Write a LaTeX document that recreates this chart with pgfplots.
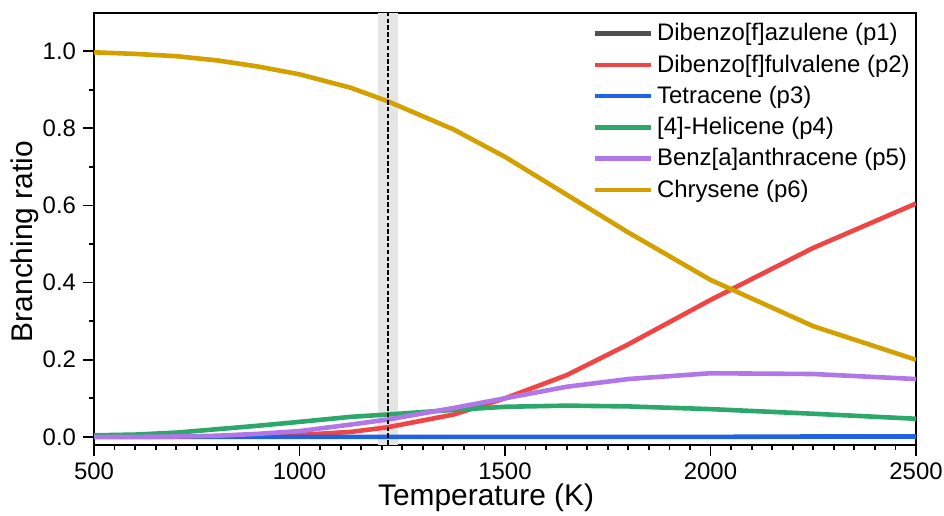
\documentclass[border=0pt]{standalone}
\usepackage{pgfplots}
\pgfplotsset{compat=1.18}
\usepackage{fontspec}
\setmainfont{Liberation Sans}
\definecolor{cP1}{HTML}{505050}
\definecolor{cP2}{HTML}{F04545}
\definecolor{cP3}{HTML}{1F63DE}
\definecolor{cP4}{HTML}{2BA86A}
\definecolor{cP5}{HTML}{B277E6}
\definecolor{cP6}{HTML}{D4A000}
\begin{document}
\begin{tikzpicture}
\begin{axis}[
  scale only axis, width=411bp, height=216bp,
  xmin=500, xmax=2500, ymin=-0.02, ymax=1.1,
  xtick={500,1000,1500,2000,2500}, minor x tick num=9,
  ytick={0,0.2,0.4,0.6,0.8,1.0}, minor y tick num=1,
  /pgf/number format/assume math mode=true,
  xticklabel style={/pgf/number format/.cd, set thousands separator={}},
  yticklabel style={/pgf/number format/.cd, fixed, fixed zerofill, precision=1},
  tick align=outside, xtick pos=bottom, ytick pos=left,
  major tick length=5.5bp, minor tick length=2.5bp,
  axis line style={line width=1bp},
  every tick/.style={black, line width=0.9bp},
  tick label style={font=\fontsize{12}{14}\selectfont},
  label style={font=\fontsize{15}{18}\selectfont},
  xlabel={Temperature (K)}, ylabel={Branching ratio},
  every axis x label/.append style={at={(ticklabel cs:0.477,-4.5bp)}},
  every axis y label/.append style={at={(ticklabel cs:0.47,-5bp)}},
  legend style={draw=none, fill=none, at={(rel axis cs:0.606,0.985)}, anchor=north west,
    font=\fontsize{12}{14}\selectfont, row sep=1.5bp, inner sep=0pt},
  legend cell align=left,
  legend image code/.code={\draw[#1] (0bp,0bp) -- (28bp,0bp);},
  every axis plot/.append style={line width=2.3bp},
]
\addplot[fill=black!10, draw=none, line width=0pt, forget plot] coordinates {(1190,-0.02) (1190,1.1) (1240,1.1) (1240,-0.02)} -- cycle;
\addplot[cP1] coordinates {(500,0) (1000,0) (1500,0) (2000,0) (2500,0)};
\addlegendentry{Dibenzo[f]azulene (p1)}
\addplot[cP2] coordinates {(500,0) (600,0) (700,0.0005) (800,0.001) (900,0.003) (1000,0.005) (1125,0.013) (1215,0.025) (1375,0.058) (1500,0.1) (1650,0.16) (1800,0.24) (2000,0.355) (2250,0.49) (2500,0.605)};
\addlegendentry{Dibenzo[f]fulvalene (p2)}
\addplot[cP3] coordinates {(500,0) (1000,0) (1500,0) (2000,0) (2250,0.001) (2500,0.001)};
\addlegendentry{Tetracene (p3)}
\addplot[cP4] coordinates {(500,0.004) (600,0.006) (700,0.011) (800,0.02) (900,0.029) (1000,0.039) (1125,0.052) (1215,0.058) (1375,0.07) (1500,0.078) (1650,0.081) (1800,0.079) (2000,0.072) (2250,0.06) (2500,0.047)};
\addlegendentry{[4]-Helicene (p4)}
\addplot[cP5] coordinates {(500,0) (600,0) (700,0.001) (800,0.003) (900,0.008) (1000,0.015) (1125,0.032) (1215,0.045) (1375,0.075) (1500,0.1) (1650,0.13) (1800,0.15) (2000,0.165) (2250,0.163) (2500,0.15)};
\addlegendentry{Benz[a]anthracene (p5)}
\addplot[cP6] coordinates {(500,0.997) (600,0.993) (700,0.987) (800,0.976) (900,0.96) (1000,0.94) (1125,0.905) (1215,0.87) (1375,0.797) (1500,0.726) (1650,0.628) (1800,0.53) (2000,0.407) (2250,0.287) (2500,0.2)};
\addlegendentry{Chrysene (p6)}
\addplot[black, line width=0.9bp, dash pattern=on 2.2bp off 1.2bp, forget plot] coordinates {(1215,-0.02) (1215,1.1)};
\end{axis}
\pgfresetboundingbox
\path ([shift={(-47bp,-35.5bp)}]current axis.south west) rectangle ([shift={(14bp,6.3bp)}]current axis.north east);
\end{tikzpicture}
\end{document}
